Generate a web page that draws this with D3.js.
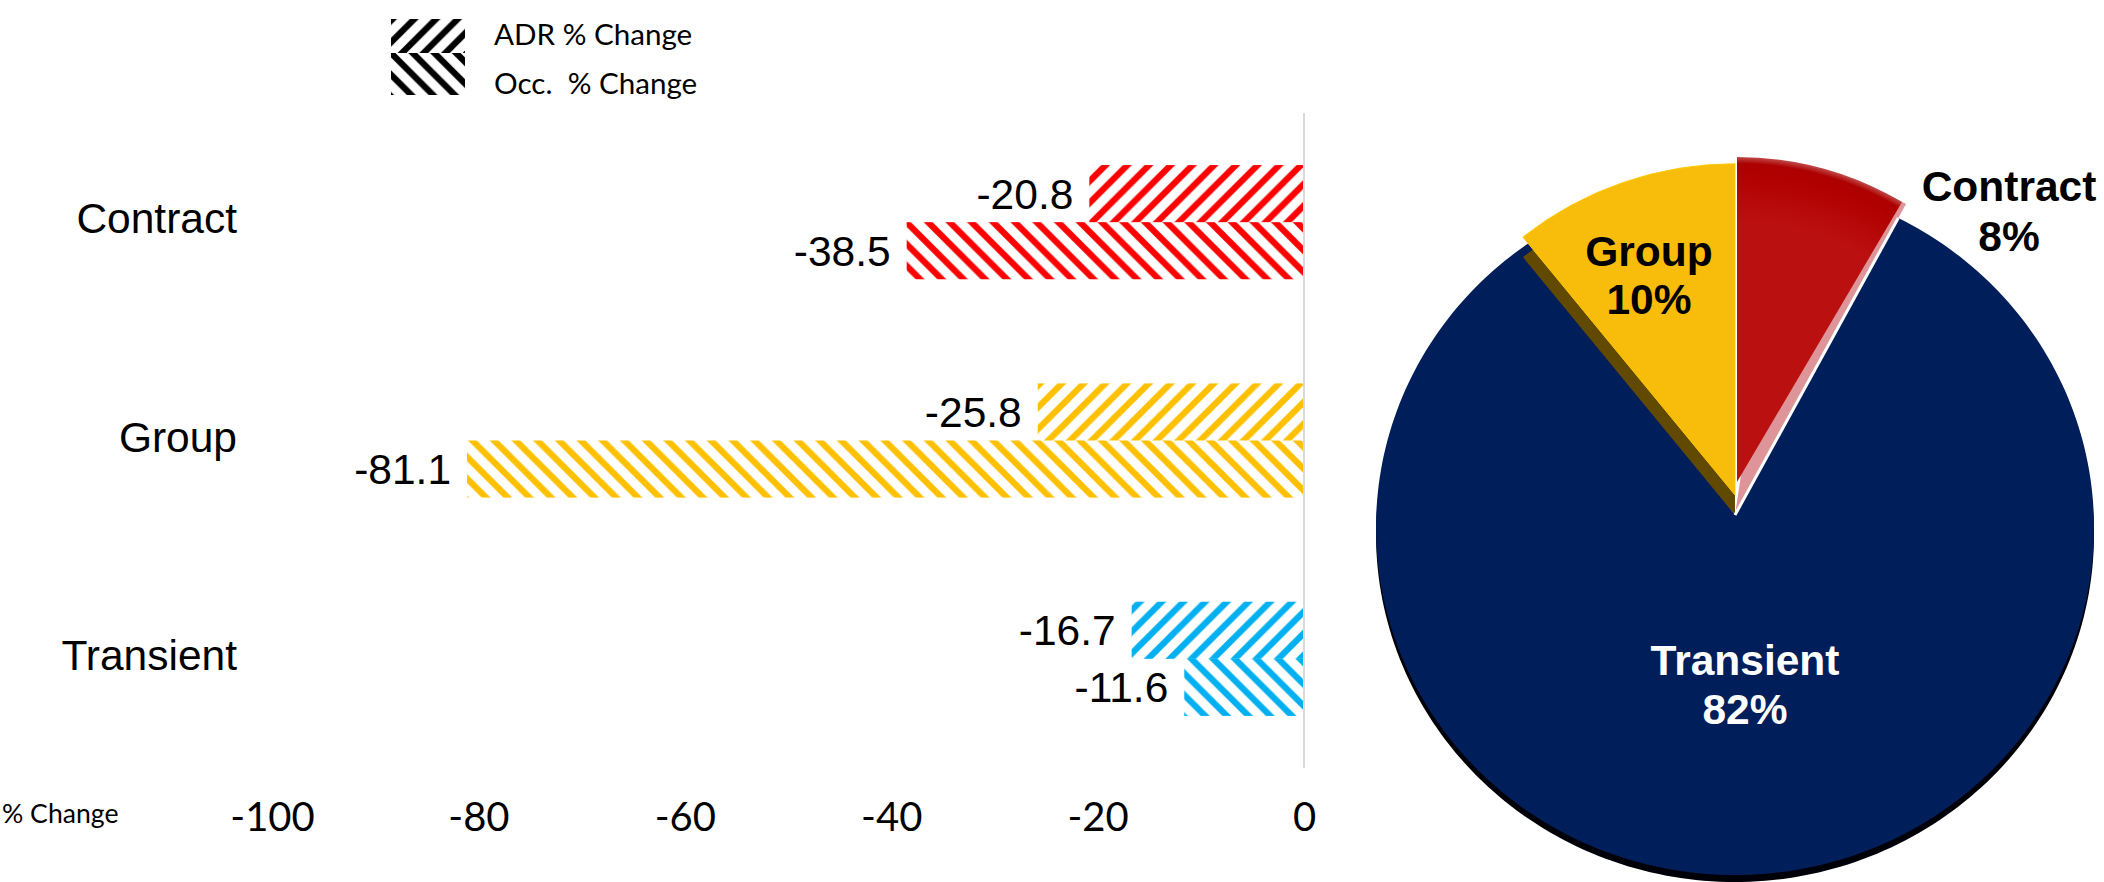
<!DOCTYPE html>
<html>
<head>
<meta charset="utf-8">
<script src="https://cdn.jsdelivr.net/npm/d3@7"></script>
<style>
html,body{margin:0;padding:0;background:#fff;overflow:hidden}
svg{display:block}
</style>
</head>
<body>
<div id="chartHolder"></div>
<script>
// values
const categories = ["Contract", "Group", "Transient"];
const seriesNames = ["ADR % Change", "Occ.  % Change"];
const adrChange = [-20.8, -25.8, -16.7];
const occChange = [-38.5, -81.1, -11.6];
const xTicks = [-100, -80, -60, -40, -20, 0];
const axisName = "% Change";
const pieCategories = ["Contract", "Transient", "Group"];
const pieShares = [8, 82, 10];

const width = 2104;
const height = 882;
const barColors = {Contract: "#ff0000", Group: "#ffc000", Transient: "#00b0f0"};
// where the stripes of each pair hit the line between the two bars
const stripePhase = {Contract: [1092, 1080], Group: [1070, 1080], Transient: [1300, 1300]};
const period = 21.7;

const svg = d3.select("#chartHolder").append("svg")
    .attr("width", width)
    .attr("height", height);
const defs = svg.append("defs");

// hatch fills, up = "/" and down = "\"
function hatch(id, color, up, ox, oy){
    const p = period;
    const d = up
        ? `M${-p/4},${p/4}L${p/4},${-p/4}M0,${p}L${p},0M${3*p/4},${5*p/4}L${5*p/4},${3*p/4}`
        : `M${-p/4},${3*p/4}L${p/4},${5*p/4}M0,0L${p},${p}M${3*p/4},${-p/4}L${5*p/4},${p/4}`;
    const pat = defs.append("pattern")
        .attr("id", id)
        .attr("patternUnits", "userSpaceOnUse")
        .attr("width", p)
        .attr("height", p)
        .attr("patternTransform", `translate(${ox},${oy})`);
    pat.append("path").attr("d", d)
        .attr("fill", "none")
        .attr("stroke", color)
        .attr("stroke-width", 6.3);
    return `url(#${id})`;
}

// bars
const xScale = d3.scaleLinear().domain([-100, 0]).range([272, 1304]);
const yScale = d3.scaleBand().domain(categories).range([113, 768])
    .paddingInner(0.477).paddingOuter(0.2385);
const ySeries = d3.scaleBand().domain([0, 1]).range([0, yScale.bandwidth()]);

const barRows = categories.flatMap((c, i) => [
    {cat: c, series: 0, value: adrChange[i]},
    {cat: c, series: 1, value: occChange[i]}
]);

svg.selectAll(".bar")
    .data(barRows)
    .enter()
    .append("rect")
    .attr("class", "bar")
    .attr("x", d => xScale(d.value))
    .attr("y", d => yScale(d.cat) + ySeries(d.series))
    .attr("width", d => xScale(0) - xScale(d.value))
    .attr("height", ySeries.bandwidth())
    .attr("fill", (d, i) => hatch("h" + i, barColors[d.cat], d.series === 0,
        stripePhase[d.cat][d.series],
        yScale(d.cat) + ySeries.bandwidth()));

svg.selectAll(".barLabel")
    .data(barRows)
    .enter()
    .append("text")
    .attr("class", "barLabel")
    .attr("x", d => xScale(d.value) - 16)
    .attr("y", d => yScale(d.cat) + ySeries(d.series) + ySeries.bandwidth() / 2 + 15)
    .attr("text-anchor", "end")
    .style("font", "42.5px 'Liberation Sans'")
    .style("fill", "#000")
    .text(d => d.value.toFixed(1));

// zero line
svg.append("line")
    .attr("x1", xScale(0)).attr("x2", xScale(0))
    .attr("y1", yScale.range()[0]).attr("y2", yScale.range()[1])
    .attr("stroke", "#d9d9d9")
    .attr("stroke-width", 2);

// category labels
svg.selectAll(".catLabel")
    .data(categories)
    .enter()
    .append("text")
    .attr("class", "catLabel")
    .attr("x", 237)
    .attr("y", d => yScale(d) + yScale.bandwidth() / 2 + 11)
    .attr("text-anchor", "end")
    .style("font", "42.5px 'Liberation Sans'")
    .text(d => d);

// x axis
const xAxis = d3.axisBottom(xScale)
    .tickValues(xTicks)
    .tickSize(0)
    .tickFormat(d3.format("d"));
const xG = svg.append("g")
    .attr("transform", "translate(0,790)")
    .call(xAxis);
xG.select(".domain").remove();
xG.selectAll("text")
    .attr("y", 0)
    .attr("dy", 41)
    .style("font", "40px Lato")
    .style("fill", "#000")
    .text(d => String(d));

svg.append("text")
    .attr("x", 2).attr("y", 823)
    .style("font", "26.6px Lato")
    .text(axisName);

// legend
const legendTop = [19, 53];
const legendBottom = [53, 95];
seriesNames.forEach((name, i) => {
    svg.append("rect")
        .attr("x", 391).attr("width", 74)
        .attr("y", legendTop[i]).attr("height", legendBottom[i] - legendTop[i])
        .attr("fill", hatch("lg" + i, "#000", i === 0, i === 0 ? 402 : 391, 53));
    svg.append("text")
        .attr("x", 494).attr("y", i === 0 ? 45 : 94)
        .style("font", "29.6px Lato")
        .style("white-space", "pre")
        .text(name);
});

// pie, apex sits a little above the centre of the tilted outline
const cx = 1735, cy = 515;
const rimX = 359, rimY = 347.5, rimDrop = 12.5;
const slices = d3.pie().sort(null)(pieShares)
    .map((s, i) => ({...s, name: pieCategories[i]}));
const bySlice = n => slices.find(s => s.name === n);
const arc = r => d3.arc().innerRadius(0).outerRadius(r);

// point on the outline seen from the apex in direction a
function rimPoint(a){
    const dx = Math.sin(a), dy = -Math.cos(a);
    const A = dx * dx / (rimX * rimX) + dy * dy / (rimY * rimY);
    const B = -2 * dy * rimDrop / (rimY * rimY);
    const C = rimDrop * rimDrop / (rimY * rimY) - 1;
    const t = (-B + Math.sqrt(B * B - 4 * A * C)) / (2 * A);
    return [t * dx, t * dy];
}
const transient = bySlice("Transient");
const transientPath = d3.line()(
    [[0, 0]].concat(d3.range(0, 241).map(k =>
        rimPoint(transient.startAngle + (transient.endAngle - transient.startAngle) * k / 240)
    ))
) + "Z";

const grad = defs.append("radialGradient")
    .attr("id", "contractFill")
    .attr("gradientUnits", "userSpaceOnUse")
    .attr("cx", 0).attr("cy", 0).attr("r", 325);
[[0, "#bb1010"], [0.8, "#bb1010"], [0.93, "#b20202"], [0.98, "#ad0000"], [1, "#c04a4a"]]
    .forEach(s => grad.append("stop").attr("offset", s[0]).attr("stop-color", s[1]));

const pie = svg.append("g").attr("transform", `translate(${cx},${cy})`);

pie.append("path")
    .attr("d", transientPath)
    .attr("transform", "translate(0,7)")
    .attr("fill", "#000008");
pie.append("path")
    .attr("d", transientPath)
    .attr("fill", "#001e5a");

// group wedge, dark side then the face lifted above it
const group = bySlice("Group");
const groupFace = {startAngle: group.startAngle - 0.05, endAngle: group.endAngle};
pie.append("path")
    .attr("d", arc(338)(groupFace))
    .attr("transform", "scale(1,0.98)")
    .attr("fill", "#614a00");
pie.append("path")
    .attr("d", arc(338)(groupFace))
    .attr("transform", "translate(0,-20) scale(1,0.98)")
    .attr("fill", "#f8bd0b")
    .attr("stroke", "#ffc800")
    .attr("stroke-width", 1);

// contract wedge, pale side then the face lifted above it
const contract = bySlice("Contract");
pie.append("path")
    .attr("d", arc(355)({startAngle: contract.startAngle + 0.15, endAngle: contract.endAngle}))
    .attr("fill", "#dd9599");
// white edge between the pale side and the navy slice
pie.append("path")
    .attr("d", d3.line()([[0, 0], rimPoint(contract.endAngle)]))
    .attr("stroke", "#fff")
    .attr("stroke-width", 3);
pie.append("path")
    .attr("d", arc(325)({startAngle: contract.startAngle, endAngle: contract.endAngle + 0.03}))
    .attr("transform", "translate(2,-33)")
    .attr("fill", "url(#contractFill)");

// pie labels
const pieLabelPos = {Contract: [2009, 201, 251], Group: [1649, 266, 314], Transient: [1745, 675, 724]};
slices.forEach(s => {
    const p = pieLabelPos[s.name];
    const col = s.name === "Transient" ? "#fff" : "#000";
    [s.name, s.value + "%"].forEach((t, i) => {
        svg.append("text")
            .attr("x", p[0]).attr("y", p[i + 1])
            .attr("text-anchor", "middle")
            .style("font", "bold 42.5px 'Liberation Sans'")
            .style("fill", col)
            .text(t);
    });
});
</script>
</body>
</html>
